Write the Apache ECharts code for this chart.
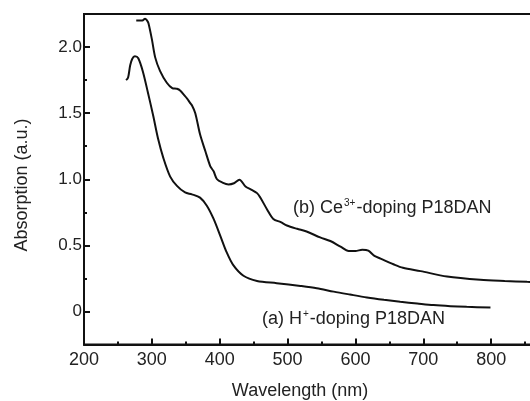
<!DOCTYPE html>
<html>
<head>
<meta charset="utf-8">
<script src="https://cdn.jsdelivr.net/npm/echarts@6/dist/echarts.min.js"></script>
<style>html,body{margin:0;padding:0;background:#fff;overflow:hidden}#c{width:530px;height:401px}</style>
</head>
<body>
<div id="c"></div>
<script>
// ---- data ----
const xTickValues = [200, 300, 400, 500, 600, 700, 800];
const yTickValues = [0, 0.5, 1.0, 1.5, 2.0];
const yTickLabels = ['0', '0.5', '1.0', '1.5', '2.0'];
const yMinorTickValues = [-0.25, 0.25, 0.75, 1.25, 1.75];

// (a) H+-doping P18DAN
const waveA = [262, 265, 268, 271, 275, 280, 287, 294, 302, 309, 317, 327, 337, 349, 359, 371, 381, 391, 401, 410, 420, 435, 455, 484, 519, 543, 568, 592, 617, 642, 666, 691, 715, 740, 764, 799];
const absA  = [1.75, 1.77, 1.86, 1.91, 1.93, 1.915, 1.81, 1.66, 1.48, 1.31, 1.16, 1.02, 0.95, 0.90, 0.886, 0.861, 0.80, 0.70, 0.57, 0.45, 0.35, 0.27, 0.231, 0.214, 0.193, 0.176, 0.150, 0.128, 0.106, 0.088, 0.073, 0.060, 0.048, 0.040, 0.035, 0.030];

// (b) Ce3+-doping P18DAN
const waveB = [277, 282, 286, 290, 293, 295, 300, 305, 312, 322, 330, 337, 342, 347, 352, 356, 359, 364, 371, 379, 386, 391, 396, 404, 413, 421, 429, 438, 447, 455, 460, 470, 479, 490, 499, 514, 528, 548, 563, 578, 590, 600, 610, 619, 628, 637, 656, 670, 696, 735, 784, 820, 853, 880];
const absB  = [2.20, 2.20, 2.20, 2.215, 2.20, 2.18, 2.06, 1.92, 1.82, 1.73, 1.69, 1.684, 1.67, 1.64, 1.61, 1.58, 1.56, 1.50, 1.34, 1.21, 1.10, 1.06, 1.00, 0.975, 0.961, 0.97, 0.997, 0.945, 0.92, 0.895, 0.86, 0.77, 0.70, 0.675, 0.65, 0.625, 0.605, 0.56, 0.533, 0.49, 0.458, 0.458, 0.466, 0.46, 0.42, 0.40, 0.357, 0.33, 0.305, 0.264, 0.239, 0.23, 0.224, 0.222];

const labelA = ['(a) H', '+', '-doping P18DAN'];
const labelB = ['(b) Ce', '3+', '-doping P18DAN'];
const xTitle = 'Wavelength (nm)';
const yTitle = 'Absorption (a.u.)';

const pairs = (xs, ys) => xs.map((x, i) => [x, ys[i]]);
const font = 'Liberation Sans, Arial, Helvetica, sans-serif';
const ink = '#111';
const textInk = '#222';

const chart = echarts.init(document.getElementById('c'), null, {renderer: 'canvas'});
chart.setOption({
  animation: false,
  backgroundColor: '#fff',
  grid: {left: 84, top: 14, width: 475, height: 330.5, show: true, borderColor: ink, borderWidth: 2,
    containLabel: false, outerBoundsMode: 'none'},
  xAxis: {
    type: 'value', min: 200, max: 900, interval: 100,
    axisLine: {show: true, onZero: false, lineStyle: {color: ink, width: 2}},
    axisTick: {show: true, inside: true, length: 6, lineStyle: {color: ink, width: 2}},
    minorTick: {show: true, splitNumber: 2, length: 3, lineStyle: {color: ink, width: 2}},
    axisLabel: {color: textInk, fontFamily: font, fontSize: 18, margin: 7,
      formatter: v => (xTickValues.indexOf(v) >= 0 ? String(v) : '')},
    splitLine: {show: false}
  },
  yAxis: [{
    type: 'value', min: -0.25, max: 2.25, interval: 0.25,
    axisLine: {show: true, onZero: false, lineStyle: {color: ink, width: 2}},
    axisTick: {show: true, inside: true, length: 6, customValues: yTickValues, lineStyle: {color: ink, width: 2}},
    axisLabel: {color: textInk, fontFamily: font, fontSize: 17, margin: 2, customValues: yTickValues,
      formatter: v => yTickLabels[yTickValues.findIndex(t => Math.abs(t - v) < 1e-6)] ?? ''},
    splitLine: {show: false}
  }, {
    type: 'value', min: -0.25, max: 2.25, interval: 0.25, position: 'left',
    axisLine: {show: false},
    axisTick: {show: true, inside: true, length: 3, customValues: yMinorTickValues, lineStyle: {color: ink, width: 2}},
    axisLabel: {show: false},
    splitLine: {show: false}
  }],
  series: [{
    type: 'line', name: 'A', data: pairs(waveA, absA), showSymbol: false, smooth: 0.3,
    lineStyle: {color: ink, width: 2}, silent: true
  }, {
    type: 'line', name: 'B', data: pairs(waveB, absB), showSymbol: false, smooth: 0.3,
    lineStyle: {color: ink, width: 2}, silent: true
  }]
});

const rich = {
  n: {fontSize: 18, fontFamily: font, color: textInk},
  s: {fontSize: 10, fontFamily: font, color: textInk, padding: [0, 1, 9, 1]}
};
chart.setOption({graphic: [
  {type: 'text', x: 300, y: 391, style: {text: xTitle, font: '18px ' + font, fill: textInk, align: 'center', verticalAlign: 'middle'}},
  {type: 'text', x: 22, y: 185, rotation: Math.PI / 2, style: {text: yTitle, font: '18px ' + font, fill: textInk, align: 'center', verticalAlign: 'middle'}},
  {type: 'text', x: 262, y: 319, style: {text: '{n|' + labelA[0] + '}{s|' + labelA[1] + '}{n|' + labelA[2] + '}', rich: rich, verticalAlign: 'middle', fill: textInk}},
  {type: 'text', x: 293, y: 208, style: {text: '{n|' + labelB[0] + '}{s|' + labelB[1] + '}{n|' + labelB[2] + '}', rich: rich, verticalAlign: 'middle', fill: textInk}}
]});
</script>
</body>
</html>
